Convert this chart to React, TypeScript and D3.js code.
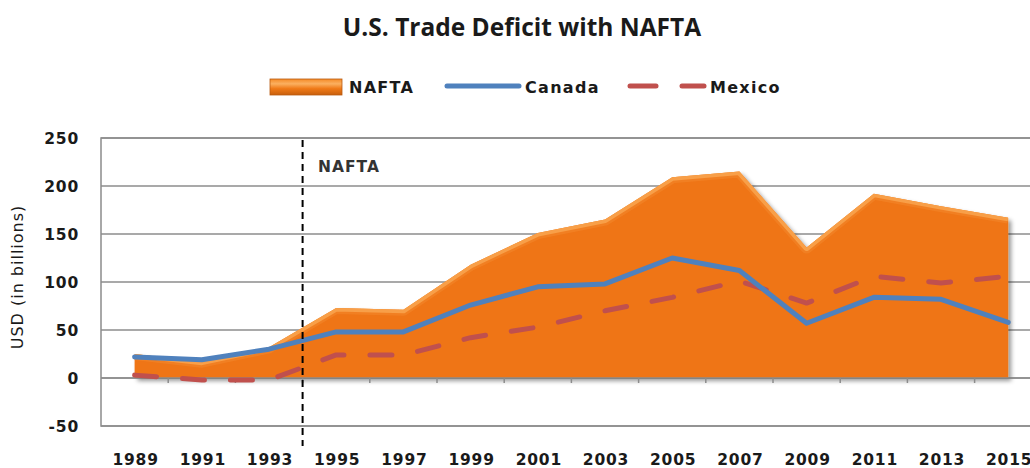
import React from "react";
import * as d3 from "d3";

const years = ["1989","1991","1993","1995","1997","1999","2001","2003","2005","2007","2009","2011","2013","2015"];
const nafta = [25, 17, 32, 73, 71, 118, 151, 165, 209, 215, 136, 192, 179, 167];
const canada = [22, 19, 30, 48, 48, 76, 95, 98, 125, 112, 57, 84, 82, 58];
const mexico = [3, -2, -2, 24, 24, 42, 53, 70, 84, 101, 78, 106, 99, 106];
const yTicks = [-50, 0, 50, 100, 150, 200, 250];
const naftaYear = 1994;

const W = 1030, H = 468;
const plot = { left: 101, top: 138, bottom: 426, band: 67.2 };

export default function App() {
  const x = d3.scalePoint<string>().domain(years).range([plot.left, plot.left + plot.band * years.length]).padding(0.5);
  const y = d3.scaleLinear().domain([-50, 250]).range([plot.bottom, plot.top]);
  const right = plot.left + plot.band * years.length;
  const xc = (i: number) => x(years[i]) as number;
  const yearX = (yr: number) => {
    const i0 = years.findIndex((v) => +v > yr) - 1;
    const a = +years[i0], b = +years[i0 + 1];
    return xc(i0) + ((yr - a) / (b - a)) * (xc(i0 + 1) - xc(i0));
  };

  const area = d3.area<number>().x((_, i) => xc(i)).y0(y(0)).y1((d) => y(d));
  const topLine = d3.line<number>().x((_, i) => xc(i)).y((d) => y(d));
  const line = d3.line<number>().x((_, i) => xc(i)).y((d) => y(d));

  const font = "'DejaVu Sans', Verdana, sans-serif";
  const tickXs = years.slice(1).map((_, i) => (xc(i) + xc(i + 1)) / 2);

  return (
    <svg width={W} height={H} style={{ position: "absolute", left: 0, top: 0, background: "#fff" }}>
      <defs>
        <filter id="shadow" x="-5%" y="-5%" width="115%" height="120%">
          <feDropShadow dx="3" dy="3" stdDeviation="2.2" floodColor="#000" floodOpacity="0.4" />
        </filter>
        <clipPath id="areaClip">
          <path d={area(nafta) ?? ""} />
        </clipPath>
        <linearGradient id="legGrad" x1="0" y1="0" x2="0" y2="1">
          <stop offset="0" stopColor="#f58a26" />
          <stop offset="0.3" stopColor="#fbb060" />
          <stop offset="0.6" stopColor="#f07a17" />
          <stop offset="1" stopColor="#c85f0c" />
        </linearGradient>
      </defs>

      <text x={522} y={36} textAnchor="middle" fontFamily="'Open Sans', sans-serif" fontWeight="bold" fontSize={24.5} fill="#1a1a1a">
        U.S. Trade Deficit with NAFTA
      </text>

      {/* legend */}
      <g fontFamily={font} fontSize={16} fill="#1a1a1a" letterSpacing={1.3} fontWeight={600}>
        <rect x={270} y={79} width={72} height={16} fill="url(#legGrad)" stroke="#b85a10" strokeWidth={0.8} />
        <text x={349} y={93}>NAFTA</text>
        <line x1={447} x2={519} y1={86} y2={86} stroke="#4F81BD" strokeWidth={5} strokeLinecap="round" />
        <text x={525} y={93}>Canada</text>
        <line x1={630} x2={656} y1={86} y2={86} stroke="#C0504D" strokeWidth={5} strokeLinecap="round" />
        <line x1={682} x2={704} y1={86} y2={86} stroke="#C0504D" strokeWidth={5} strokeLinecap="round" />
        <text x={710} y={93}>Mexico</text>
      </g>

      {/* gridlines */}
      {yTicks.map((t) => (
        <line key={t} x1={plot.left} x2={right} y1={y(t)} y2={y(t)} stroke="#8c8c8c" strokeWidth={1.5} />
      ))}
      <rect x={plot.left} y={plot.top} width={right - plot.left} height={plot.bottom - plot.top} fill="none" stroke="#8c8c8c" strokeWidth={1.5} />

      {/* y axis labels */}
      <g fontFamily={font} fontSize={15.5} fill="#1a1a1a" letterSpacing={0.8} fontWeight="bold" textAnchor="end">
        {yTicks.map((t) => (
          <text key={t} x={79} y={y(t) + 6}>{t}</text>
        ))}
      </g>
      <text transform={`translate(23,${277}) rotate(-90)`} textAnchor="middle" fontFamily={font} fontSize={16} letterSpacing={1} fill="#1a1a1a">
        USD (in billions)
      </text>

      {/* area */}
      <path d={area(nafta) ?? ""} fill="#EF7512" filter="url(#shadow)" />
      <g clipPath="url(#areaClip)">
        <path d={topLine(nafta) ?? ""} fill="none" stroke="#f9a650" strokeWidth={7} strokeLinejoin="round" />
        <path d={topLine(nafta) ?? ""} fill="none" stroke="#f5923a" strokeWidth={12} strokeOpacity={0.35} strokeLinejoin="round" />
      </g>

      {/* ticks at zero */}
      {tickXs.map((tx, i) => (
        <line key={i} x1={tx} x2={tx} y1={y(0)} y2={y(0) + 5} stroke="#8c8c8c" strokeWidth={1.5} />
      ))}
      <line x1={plot.left} x2={right} y1={y(0)} y2={y(0)} stroke="#8c8c8c" strokeWidth={1.5} />

      {/* lines */}
      <path d={line(mexico) ?? ""} fill="none" stroke="#C0504D" strokeWidth={5} strokeDasharray="22 26" strokeLinecap="round" strokeLinejoin="round" />
      <path d={line(canada) ?? ""} fill="none" stroke="#4F81BD" strokeWidth={5} strokeLinecap="round" strokeLinejoin="round" />

      {/* NAFTA marker */}
      <line x1={yearX(naftaYear)} x2={yearX(naftaYear)} y1={plot.top + 2} y2={446} stroke="#000" strokeWidth={2} strokeDasharray="7 5" />
      <text x={318} y={172} fontFamily={font} fontWeight="bold" fontSize={15.5} letterSpacing={1} fill="#333">NAFTA</text>

      {/* x labels */}
      <g fontFamily={font} fontSize={15.5} fill="#1a1a1a" letterSpacing={0.8} fontWeight="bold" textAnchor="middle">
        {years.map((yr) => (
          <text key={yr} x={(x(yr) as number) + 1} y={465}>{yr}</text>
        ))}
      </g>
    </svg>
  );
}
